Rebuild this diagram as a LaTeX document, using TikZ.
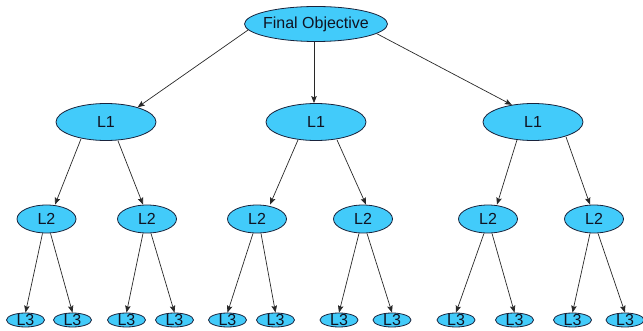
\documentclass[tikz,border=0pt]{standalone}
\usepackage{fontspec}
\setmainfont{Liberation Sans}
\usetikzlibrary{shapes.geometric,arrows.meta}
\definecolor{nodefill}{RGB}{66,203,250}
\definecolor{nodeline}{RGB}{25,35,60}
\definecolor{edgecol}{RGB}{40,40,40}
\definecolor{txtcol}{RGB}{15,20,35}
\tikzset{
  oval/.style={ellipse,draw=nodeline,fill=nodefill,line width=0.8pt,inner sep=0pt},
  fobox/.style={oval,minimum width=143pt,minimum height=35pt},
  lone/.style={oval,minimum width=100pt,minimum height=37pt},
  ltwo/.style={oval,minimum width=59pt,minimum height=28pt},
  lthree/.style={oval,minimum width=38pt,minimum height=14pt},
  lbl/.style={inner sep=0pt,text=txtcol,font=\fontsize{16}{18}\selectfont},
  edge/.style={draw=edgecol,line width=0.7pt,-{Stealth[length=7pt,width=5.5pt,inset=1.2pt]}}
}
\begin{document}
\begin{tikzpicture}[x=1pt,y=-1pt]
\useasboundingbox (0,0) rectangle (643,331);
% top
\node[fobox] (fo) at (316,24) {};
\node[lbl] (fot) at (fo) {Final Objective};
% L1
\node[lone] (a) at (106,122) {}; \node[lbl] (at) at (a) {L1};
\node[lone] (b) at (316,122) {}; \node[lbl] (bt) at (b) {L1};
\node[lone] (c) at (533,122) {}; \node[lbl] (ct) at (c) {L1};
% L2
\node[ltwo] (a1) at (46.5,219) {}; \node[lbl] (a1t) at (a1) {L2};
\node[ltwo] (a2) at (147,219) {}; \node[lbl] (a2t) at (a2) {L2};
\node[ltwo] (b1) at (257,219) {}; \node[lbl] (b1t) at (b1) {L2};
\node[ltwo] (b2) at (363,219) {}; \node[lbl] (b2t) at (b2) {L2};
\node[ltwo] (c1) at (488,219) {}; \node[lbl] (c1t) at (c1) {L2};
\node[ltwo] (c2) at (594,219) {}; \node[lbl] (c2t) at (c2) {L2};
% L3
\foreach \n/\x in {a11/25.5,a12/72.5,a21/126.5,a22/174.5,
                   b11/227.5,b12/275.5,b21/339,b22/392,
                   c11/456,c12/514.5,c21/572.5,c22/625}{
  \node[lthree] (\n) at (\x,320) {};
  \node[lbl] (\n t) at (\n) {L3};
}
% edges top
\draw[edge] (fo.185) -- (a.25);
\draw[edge] ([xshift=-2pt]fo.south) -- ([xshift=-2pt]b.north);
\draw[edge] (fo.351) -- (c.141);
% edges L1 -> L2
\draw[edge] ([xshift=-25pt,yshift=2pt]a.south) -- ([xshift=8.5pt]a1.north);
\draw[edge] ([xshift=12pt]a.south) -- ([xshift=-4pt]a2.north);
\draw[edge] ([xshift=-18pt,yshift=1pt]b.south) -- ([xshift=13pt]b1.north);
\draw[edge] ([xshift=21pt,yshift=1pt]b.south) -- ([xshift=3pt]b2.north);
\draw[edge] ([xshift=-16pt,yshift=1pt]c.south) -- ([xshift=9pt]c1.north);
\draw[edge] ([xshift=33pt,yshift=4pt]c.south) -- ([xshift=-4pt]c2.north);
% edges L2 -> L3
\foreach \p in {a1,a2,b1,b2,c1,c2}{
  \draw[edge] ([xshift=-4pt]\p.south) -- (\p1.north);
  \draw[edge] ([xshift=4pt]\p.south) -- (\p2.north);
}
\end{tikzpicture}
\end{document}
